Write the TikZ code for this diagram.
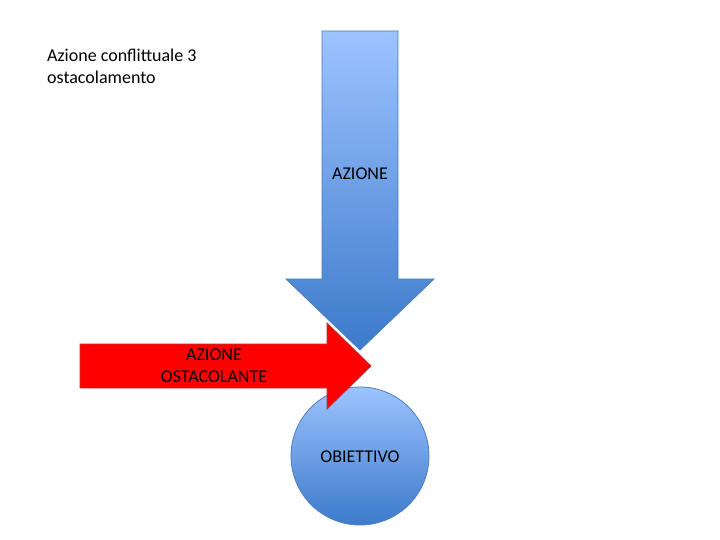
\documentclass[tikz,border=0pt]{standalone}
\usepackage{fontspec}
\setmainfont{Carlito}
\usetikzlibrary{positioning}
\definecolor{azionetop}{HTML}{9DC3FF}
\definecolor{azionebot}{HTML}{3C7ACB}
\definecolor{bordo}{HTML}{4A7EBB}
\definecolor{ostacolo}{HTML}{FF0000}
\definecolor{bordorosso}{HTML}{B0343C}

\begin{document}
\begin{tikzpicture}[x=1pt,y=-1pt,font=\fontsize{18}{22}\selectfont,
  label/.style={align=center,inner sep=0pt},
  blueshape/.style={top color=azionetop,bottom color=azionebot,draw=bordo,line width=0.8pt}]
  \useasboundingbox (0,0) rectangle (720,540);
  % Title
  \node[label,align=left,anchor=north west] (titolo) at (47,49) {Azione conflittuale 3\\ostacolamento};
  % Goal
  \shade[blueshape] (360,456) circle (69);
  \node[label] (obiettivo) at (360,457) {OBIETTIVO};
  % Action arrow (down)
  \shade[blueshape] (322,31) -- (398,31) -- (398,279) -- (434,279) -- (360,350)
    -- (286,279) -- (322,279) -- cycle;
  \node[label] (azione) at (360,174) {AZIONE};
  % Obstructing arrow (right)
  \fill[ostacolo,draw=bordorosso,line width=0.8pt] (80,344) -- (327,344) -- (327,323)
    -- (371,366) -- (327,409) -- (327,388) -- (80,388) -- cycle;
  \node[label] (ostacolante) at (214,366) {AZIONE\\OSTACOLANTE};
\end{tikzpicture}
\end{document}
